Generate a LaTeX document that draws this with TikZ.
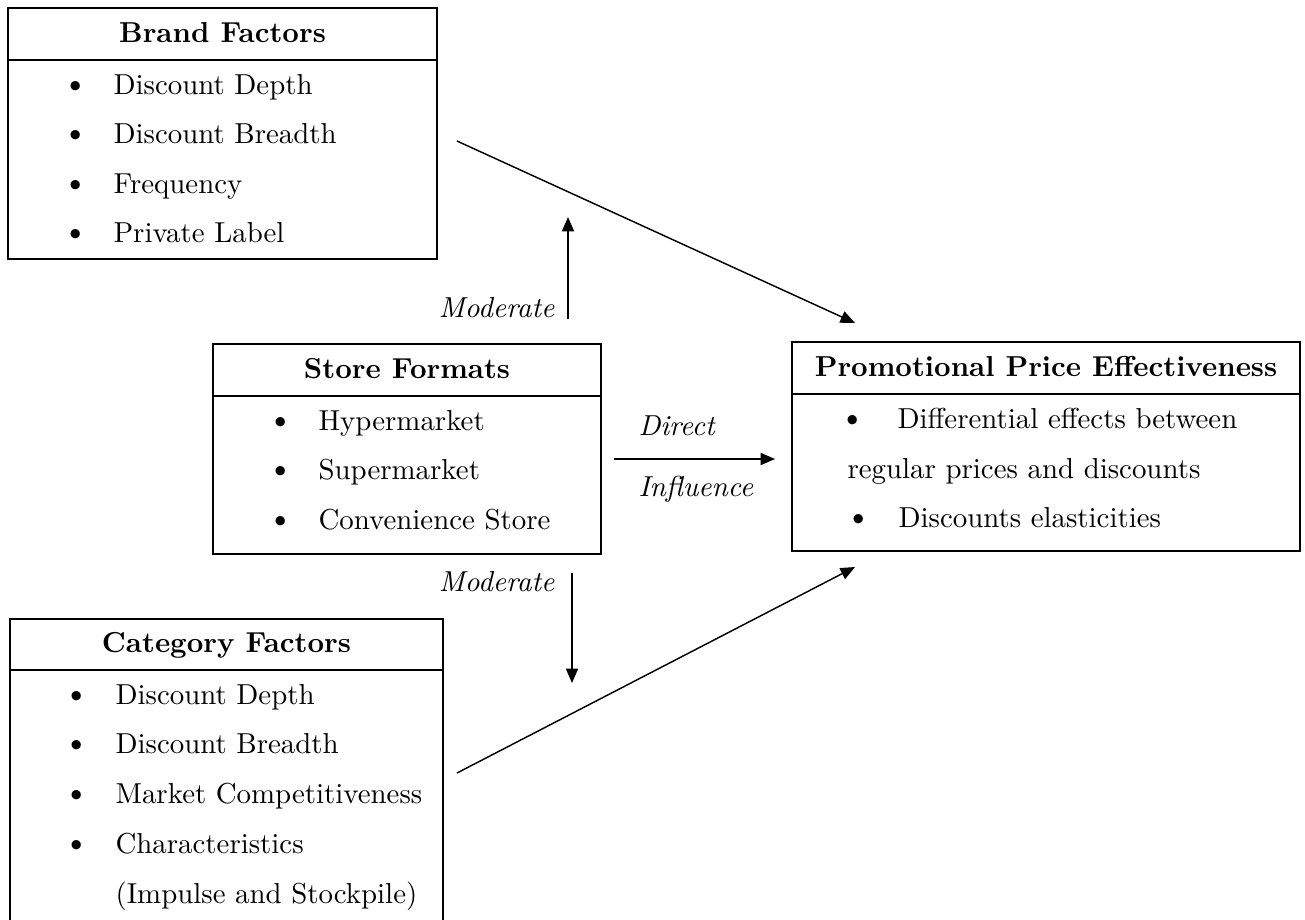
\documentclass[tikz,border=0pt]{standalone}
\usepackage{tikz}
\usetikzlibrary{positioning,fit,arrows.meta}

\begin{document}
\begin{tikzpicture}[x=0.3464pt, y=-0.3464pt,
    box/.style={draw, line width=0.6pt, inner sep=0pt},
    title/.style={font=\bfseries, anchor=base, inner sep=0pt, yshift=-2.8pt},
    dot/.style={anchor=base, inner sep=0pt, font=\large},
    item/.style={anchor=base west, inner sep=0pt},
    tag/.style={inner sep=0pt, font=\itshape},
    link/.style={line width=0.5pt, -{Triangle[length=5pt,width=4.2pt]}}]
  \useasboundingbox (0,0) rectangle (1305,919);

  % Boxes
  \node[box, fit={(8,8) (437,60)}] (brandHead) {};
  \node[box, fit={(8,60) (437,259)}] (brand) {};
  \node[box, fit={(213,344) (601,396)}] (storeHead) {};
  \node[box, fit={(213,396) (601,554)}] (store) {};
  \node[box, fit={(792,342) (1300,394)}] (promoHead) {};
  \node[box, fit={(792,394) (1300,551)}] (promo) {};
  \node[box, fit={(10,619) (443,670)}] (catHead) {};
  \node[box, fit={(10,670) (443,930)}] (cat) {};

  % Titles
  \node[title] (brandTitle) at (brandHead) {Brand Factors};
  \node[title] (storeTitle) at (storeHead) {Store Formats};
  \node[title] (promoTitle) at (promoHead) {Promotional Price Effectiveness};
  \node[title] (catTitle) at (catHead) {Category Factors};

  % Items
  \foreach \txt [count=\i] in {Discount Depth, Discount Breadth, Frequency, Private Label} {
    \node[dot] (brandDot\i) at (76, 94+49.5*\i-49.5) {\textbullet};
    \node[item] (brandItem\i) at (113, 94+49.5*\i-49.5) {\txt};
  }
  \foreach \txt [count=\i] in {Hypermarket, Supermarket, Convenience Store} {
    \node[dot] (storeDot\i) at (281, 430+49.5*\i-49.5) {\textbullet};
    \node[item] (storeItem\i) at (318, 430+49.5*\i-49.5) {\txt};
  }
  \foreach \txt [count=\i] in {Discount Depth, Discount Breadth, Market Competitiveness, Characteristics} {
    \node[dot] (catDot\i) at (77, 704+49.7*\i-49.7) {\textbullet};
    \node[item] (catItem\i) at (115, 704+49.7*\i-49.7) {\txt};
  }
  \node[item] (catItem5) at (115, 903) {(Impulse and Stockpile)};

  \node[dot] (promoDot1) at (853, 428) {\textbullet};
  \node[item] (promoItem1) at (897, 428) {Differential effects between};
  \node[item] (promoItem1b) at (847, 478) {regular prices and discounts};
  \node[dot] (promoDot2) at (859, 527) {\textbullet};
  \node[item] (promoItem2) at (898, 527) {Discounts elasticities};

  % Connector ends
  \coordinate (brandOut) at (457,141);
  \coordinate (promoInA) at (855,323);
  \coordinate (catOut) at (457,773);
  \coordinate (promoInB) at (855,567);
  \coordinate (upFrom) at (568,319);
  \coordinate (upTo) at (568,217);
  \coordinate (downFrom) at (572,573);
  \coordinate (downTo) at (572,683);
  \coordinate (directFrom) at (614,459);
  \coordinate (directTo) at (775,459);

  % Arrows
  \draw[link] (brandOut) -- (promoInA);
  \draw[link] (catOut) -- (promoInB);
  \draw[link] (upFrom) -- (upTo);
  \draw[link] (downFrom) -- (downTo);
  \draw[link] (directFrom) -- (directTo);

  % Labels
  \node[tag, anchor=base east] (modUp) at (555,317) {Moderate};
  \node[tag, anchor=base east] (modDown) at (555,591) {Moderate};
  \node[tag, anchor=base west] (direct) at (638,435) {Direct};
  \node[tag, anchor=base west] (influence) at (638,496) {Influence};
\end{tikzpicture}
\end{document}
